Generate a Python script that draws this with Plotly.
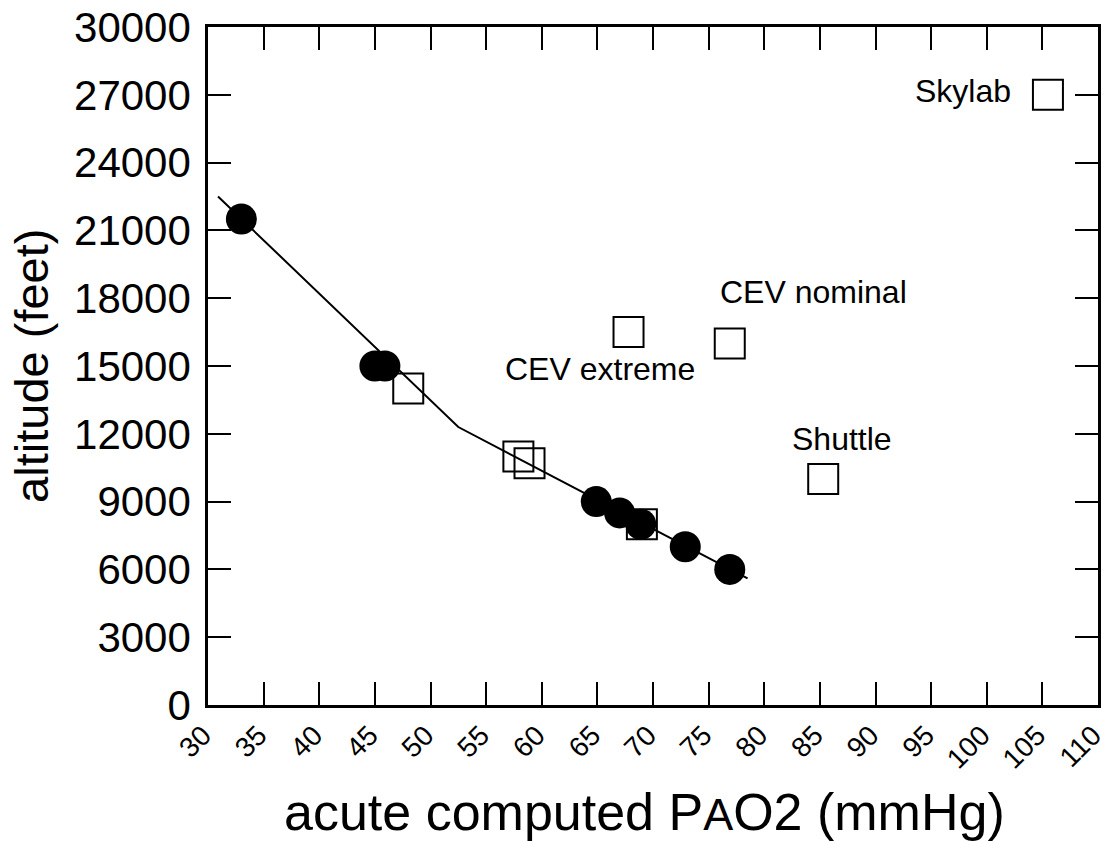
import plotly.graph_objects as go

# Data
circle_x = [33.0, 45.0, 45.9, 64.9, 67.0, 68.9, 72.9, 76.9]
circle_y = [21500, 15000, 15000, 9000, 8500, 8000, 7000, 6000]

square_x = [48.0, 57.9, 58.9, 67.8, 76.9, 69.0, 85.3, 105.5]
square_y = [14000, 11000, 10700, 16500, 16000, 8000, 10000, 27000]

fit_x = [30.9, 52.5, 78.5]
fit_y = [22500, 12300, 5600]

label_text = ["CEV extreme", "CEV nominal", "Shuttle", "Skylab"]
label_x = [65.2, 84.4, 87.0, 97.9]
label_y = [14867, 18274, 11770, 27168]

x_ticks = list(range(30, 111, 5))
y_ticks = list(range(0, 30001, 3000))

FONT = "Liberation Sans, Arial, Helvetica, sans-serif"

fig = go.Figure()
fig.add_trace(go.Scatter(
    x=square_x, y=square_y, mode="markers",
    marker=dict(symbol="square-open", size=30, color="black", line=dict(width=2, color="black")),
    showlegend=False, hoverinfo="skip"))
fig.add_trace(go.Scatter(
    x=fit_x, y=fit_y, mode="lines",
    line=dict(color="black", width=2),
    showlegend=False, hoverinfo="skip"))
fig.add_trace(go.Scatter(
    x=circle_x, y=circle_y, mode="markers",
    marker=dict(symbol="circle", size=31, color="black", line=dict(width=0)),
    showlegend=False, hoverinfo="skip"))

for t, lx, ly in zip(label_text, label_x, label_y):
    fig.add_annotation(x=lx, y=ly, text=t, showarrow=False,
                       font=dict(family=FONT, size=32, color="black"),
                       xanchor="center", yanchor="middle")

fig.add_annotation(xref="paper", yref="paper", x=0.491, y=-0.158,
                   text='acute computed P<span style="font-size:45px">A</span>O2 (mmHg)',
                   showarrow=False, xanchor="center", yanchor="middle",
                   font=dict(family=FONT, size=52, color="black"))
fig.add_annotation(xref="paper", yref="paper", x=-0.199, y=0.5,
                   text="altitude (feet)", textangle=-90,
                   showarrow=False, xanchor="center", yanchor="middle",
                   font=dict(family=FONT, size=47, color="black"))

axis_common = dict(
    showgrid=False, zeroline=False, showline=True, linecolor="black", linewidth=2.5,
    ticks="inside", ticklen=23, tickwidth=2, tickcolor="black", mirror="allticks",
    automargin=False, ticklabeloverflow="allow",
)
fig.update_xaxes(range=[30, 110], tickvals=x_ticks, ticktext=[str(v) for v in x_ticks],
                 tickangle=-45, tickfont=dict(family=FONT, size=28, color="black"),
                 ticklabelshift=-5, **axis_common)
fig.update_yaxes(range=[0, 30000], tickvals=y_ticks, ticktext=[str(v) for v in y_ticks],
                 tickfont=dict(family=FONT, size=42, color="black"),
                 ticklabelstandoff=6, **axis_common)

# the page body adds an 8px offset, so the figure is 8px smaller on each axis
fig.update_layout(
    template="none",
    width=1107, height=833,
    margin=dict(l=200, r=17, t=19, b=136, pad=0),
    plot_bgcolor="white", paper_bgcolor="white",
    font=dict(family=FONT, color="black"),
)

fig.write_html("out.html")
